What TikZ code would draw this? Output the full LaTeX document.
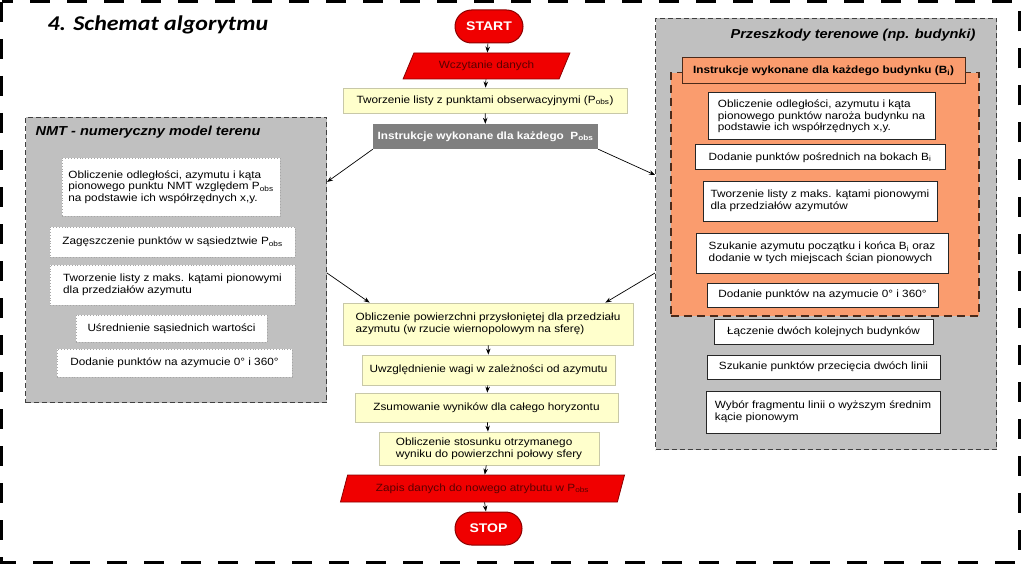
\documentclass[tikz,border=0pt]{standalone}
\usepackage{fontspec}
\setmainfont{Liberation Sans}[FakeStretch=1.12]
\newfontfamily\titlefont{Carlito}[FakeStretch=1.14]
\usetikzlibrary{arrows.meta,shapes.geometric,shapes.misc}
\definecolor{termred}{HTML}{F00000}
\definecolor{darkred}{HTML}{8C0000}
\definecolor{iotext}{HTML}{5A0000}
\definecolor{yellowfill}{HTML}{FFFFCC}
\definecolor{yellowline}{HTML}{C8C8A8}
\definecolor{instrgray}{HTML}{7F7F7F}
\definecolor{groupgray}{HTML}{C0C0C0}
\definecolor{orangefill}{HTML}{FA9C6E}
\definecolor{orangeline}{HTML}{4A2A1A}
\tikzset{
  yb/.style={draw=yellowline, fill=yellowfill, line width=0.8pt, align=left, inner sep=0pt},
  wb/.style={draw=black!85, fill=white, line width=1pt, align=left, inner sep=0pt},
  db/.style={draw=gray!70, dotted, fill=white, line width=0.9pt, align=left, inner sep=0pt},
  termbox/.style={rounded rectangle, fill=termred, draw=darkred, line width=1pt, text=white,
    font=\bfseries\fontsize{12.5}{14}\selectfont, inner sep=0pt},
  iobox/.style={trapezium, trapezium stretches=true, fill=termred, draw=darkred, line width=0.8pt,
    text=iotext, inner sep=0pt},
  arr/.style={-{Stealth[length=6pt,width=4.5pt]}, line width=0.7pt},
  grpbox/.style={fill=groupgray, draw=black!75, dash pattern=on 5pt off 3pt, line width=1pt, inner sep=0pt},
  grptitle/.style={font=\bfseries\itshape\fontsize{13}{15}\selectfont},
}
\begin{document}
\begin{tikzpicture}[x=1pt,y=-1pt,font=\fontsize{10.5}{11.7}\selectfont]
\useasboundingbox (0,0) rectangle (1024,564);
% outer frame
\draw[line width=3pt, dash pattern=on 20pt off 17pt] (1.5,2) rectangle (1019,562.5);
\node[anchor=west, font=\titlefont\bfseries\itshape\fontsize{21}{24}\selectfont] (title) at (44,25) {4. Schemat algorytmu};

% left container
\node[grpbox, anchor=north west, minimum width=301pt, minimum height=285pt] (nmt) at (25,117) {};
\node[grptitle, anchor=west] (nmttitle) at (32,132) {NMT - numeryczny model terenu};
\node[db, minimum width=218pt, minimum height=58pt] (n1) at (171,187) {Obliczenie odległości, azymutu i kąta\\pionowego punktu NMT względem P\textsubscript{obs}\\na podstawie ich współrzędnych x,y.};
\node[db, minimum width=245pt, minimum height=30pt] (n2) at (172.5,242) {Zagęszczenie punktów w sąsiedztwie P\textsubscript{obs}};
\node[db, minimum width=245pt, minimum height=40pt] (n3) at (172.5,285) {Tworzenie listy z maks. kątami pionowymi\\dla przedziałów azymutu};
\node[db, minimum width=191pt, minimum height=27pt] (n4) at (171.5,328.5) {Uśrednienie sąsiednich wartości};
\node[db, minimum width=235pt, minimum height=28pt] (n5) at (174.5,363) {Dodanie punktów na azymucie 0° i 360°};

% right container
\node[grpbox, anchor=north west, minimum width=341pt, minimum height=431pt] (prz) at (655,18) {};
\node[grptitle, anchor=east] (przttitle) at (979,35) {Przeszkody terenowe (np. budynki)};
\node[fill=orangefill, draw=orangeline, dash pattern=on 8pt off 5pt, line width=1.5pt, anchor=north west,
  minimum width=308pt, minimum height=243pt, inner sep=0pt] (orange) at (670,72) {};
\node[fill=orangefill, draw=orangeline, line width=1pt, minimum width=283pt, minimum height=26pt, inner sep=0pt,
  font=\bfseries\fontsize{10.5}{12}\selectfont] (olabel) at (823.5,71) {Instrukcje wykonane dla każdego budynku (B\textsubscript{i})};
\node[wb, minimum width=227pt, minimum height=47pt] (r1) at (821.5,116.5) {Obliczenie odległości, azymutu i kąta\\pionowego punktów naroża budynku na\\podstawie ich współrzędnych x,y.};
\node[wb, minimum width=250pt, minimum height=25pt] (r2) at (820,157.5) {Dodanie punktów pośrednich na bokach B\textsubscript{i}};
\node[wb, minimum width=234pt, minimum height=40pt] (r3) at (820,201) {Tworzenie listy z maks. kątami pionowymi\\dla przedziałów azymutów};
\node[wb, minimum width=252pt, minimum height=40pt] (r4) at (822,253) {Szukanie azymutu początku i końca B\textsubscript{i} oraz\\dodanie w tych miejscach ścian pionowych};
\node[wb, minimum width=231pt, minimum height=24pt] (r5) at (822.5,295) {Dodanie punktów na azymucie 0° i 360°};
\node[wb, minimum width=219pt, minimum height=25pt] (r6) at (823.5,331.5) {Łączenie dwóch kolejnych budynków};
\node[wb, minimum width=233pt, minimum height=24pt] (r7) at (823.5,367) {Szukanie punktów przecięcia dwóch linii};
\node[wb, minimum width=234pt, minimum height=42pt] (r8) at (823,412) {Wybór fragmentu linii o wyższym średnim\\kącie pionowym};

% central flow
\node[termbox, minimum width=68pt, minimum height=33pt] (start) at (489,26.5) {START};
\node[iobox, trapezium left angle=54, trapezium right angle=126, minimum width=167pt, minimum height=26pt] (wcz) at (486.5,66) {Wczytanie danych};
\node[yb, minimum width=284pt, minimum height=25pt] (tl) at (485,100.5) {Tworzenie listy z punktami obserwacyjnymi (P\textsubscript{obs})};
\node[fill=instrgray, text=white, minimum width=225pt, minimum height=25pt, inner sep=0pt,
  font=\bfseries\fontsize{10.5}{12}\selectfont] (instr) at (485.5,136.5) {Instrukcje wykonane dla każdego~ P\textsubscript{obs}};
\node[yb, minimum width=290pt, minimum height=42pt] (calc) at (488,324) {Obliczenie powierzchni przysłoniętej dla przedziału\\azymutu (w rzucie wiernopolowym na sferę)};
\node[yb, minimum width=253pt, minimum height=30pt] (uwz) at (488.5,370) {Uwzględnienie wagi w zależności od azymutu};
\node[yb, minimum width=263pt, minimum height=29pt] (zsu) at (486.5,407.5) {Zsumowanie wyników dla całego horyzontu};
\node[yb, minimum width=220pt, minimum height=33pt] (obl) at (489,448.5) {Obliczenie stosunku otrzymanego\\wyniku do powierzchni połowy sfery};
\node[iobox, trapezium left angle=60, trapezium right angle=120, minimum width=285pt, minimum height=27pt] (zapis) at (482.5,488.5) {Zapis danych do nowego atrybutu w P\textsubscript{obs}};
\node[termbox, minimum width=67pt, minimum height=33pt] (stop) at (488.5,528.5) {STOP};

% connector end points on containers
\path (nmt.north east) ++(0,65) coordinate (nmtin);
\path (nmt.north east) ++(0,156) coordinate (nmtout);
\path (prz.north west) ++(0,157) coordinate (przin);
\path (prz.north west) ++(0,255) coordinate (przout);
\path (calc.north west) ++(27,0) coordinate (calcinL);
\path (calc.north east) ++(-28,0) coordinate (calcinR);

% connectors
\draw[arr] (start) -- (wcz);
\draw[arr] (wcz) -- (tl);
\draw[arr] (tl) -- (instr);
\draw[arr] (instr.south west) -- (nmtin);
\draw[arr] (instr.south east) -- (przin);
\draw[arr] (nmtout) -- (calcinL);
\draw[arr] (przout) -- (calcinR);
\draw[arr] (calc) -- (uwz);
\draw[arr] (uwz) -- (zsu);
\draw[arr] (zsu) -- (obl);
\draw[arr] (obl) -- (zapis);
\draw[arr] (zapis) -- (stop);
\end{tikzpicture}
\end{document}
